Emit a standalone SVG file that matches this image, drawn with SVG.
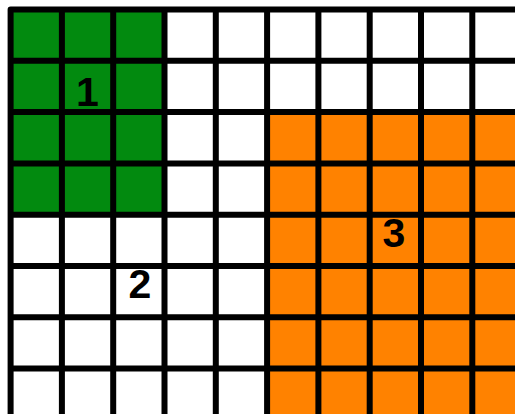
<svg xmlns="http://www.w3.org/2000/svg" width="515" height="414" viewBox="0 0 515 414">
<style>
.g{stroke:#000;stroke-width:6;fill:none}
.lbl{font-family:"Liberation Sans",Arial,sans-serif;font-weight:bold;font-size:41px;fill:#000;text-anchor:middle}
</style>
<rect width="515" height="414" fill="#fff"/>
<g id="region1"><rect x="10.6" y="9.5" width="153.9" height="205.2" fill="#028a0f"/></g>
<g id="region3"><rect x="267.1" y="112.1" width="260" height="310" fill="#ff8200"/></g>
<g id="grid" class="g">
<path d="M10.6,420 V9.5 H520" stroke-linejoin="round"/>
<path d="M61.9,9.5V420 M113.2,9.5V420 M164.5,9.5V420 M215.8,9.5V420 M267.1,9.5V420 M318.4,9.5V420 M369.7,9.5V420 M421,9.5V420 M472.3,9.5V420"/>
<path d="M10.6,60.8H520 M10.6,112.1H520 M10.6,163.4H520 M10.6,214.7H520 M10.6,266H520 M10.6,317.3H520 M10.6,368.6H520"/>
</g>
<g id="labels">
<text class="lbl" x="87.5" y="106">1</text>
<text class="lbl" x="140" y="298">2</text>
<text class="lbl" x="394" y="247">3</text>
</g>
</svg>
